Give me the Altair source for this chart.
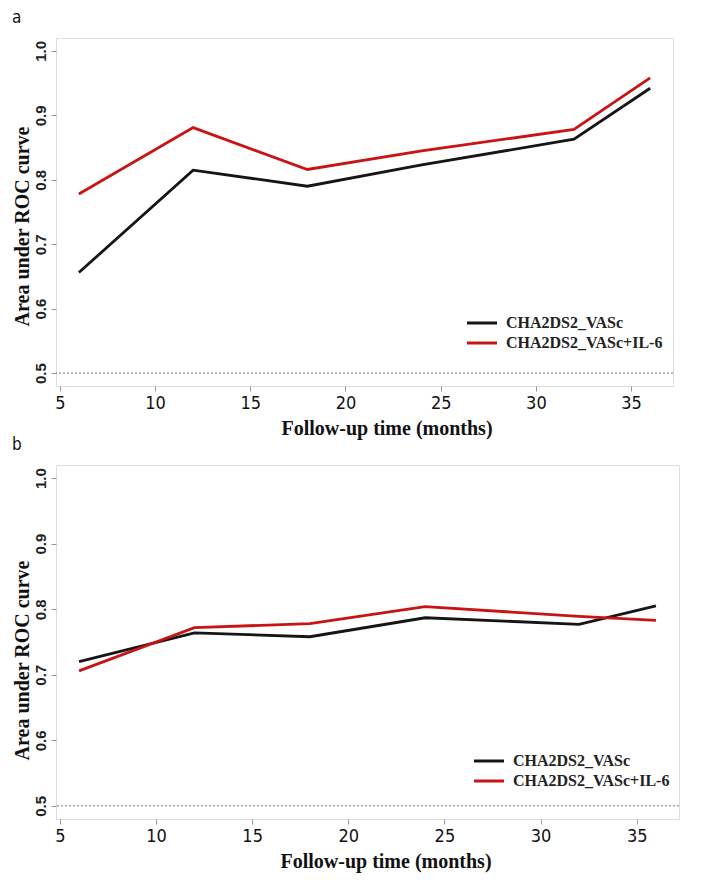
import altair as alt
import pandas as pd

months = [6, 12, 18, 24, 32, 36]
series = ["CHA2DS2_VASc", "CHA2DS2_VASc+IL-6"]
colors = ["#151515", "#c81414"]

auc_a_base = [0.656, 0.815, 0.790, 0.823, 0.863, 0.942]
auc_a_il6 = [0.778, 0.881, 0.816, 0.845, 0.878, 0.958]
auc_b_base = [0.720, 0.764, 0.758, 0.787, 0.777, 0.805]
auc_b_il6 = [0.706, 0.772, 0.778, 0.804, 0.789, 0.783]

x_ticks = [5, 10, 15, 20, 25, 30, 35]
y_ticks = [0.5, 0.6, 0.7, 0.8, 0.9, 1.0]
chance = [0.5]

SERIF = "Liberation Serif"
NARROW = "Liberation Sans Narrow, DejaVu Sans Condensed, Arial Narrow, sans-serif"
SANS = "Liberation Sans"

# wide horizontal stroke drawn beyond the nominal symbol box (keeps rows compact)
LEGEND_STROKE = "M-1.43,0H1.43"


def panel(tag, base, il6, w, h, lx, ly, tx_shift, ty_shift):
    df = pd.DataFrame({
        "month": months * 2,
        "auc": base + il6,
        "model": [series[0]] * len(months) + [series[1]] * len(months),
    })
    xs = alt.Scale(domain=[4.8, 37.2], nice=False, zero=False)
    ys = alt.Scale(domain=[0.48, 1.02], nice=False, zero=False)
    y_axis = alt.Axis(values=y_ticks, format=".1f", title="Area under ROC curve",
                      grid=False, domain=False, tickSize=5, tickColor="#999999",
                      labelAngle=270, labelAlign="center", labelBaseline="bottom",
                      labelFont=SANS, labelFontSize=15, labelFontWeight="bold",
                      labelColor="#222222", labelPadding=3,
                      titleFont=SERIF, titleFontSize=20, titleFontWeight="bold",
                      titleColor="#111111", titlePadding=1, titleY=h / 2 + ty_shift)
    ref = alt.Chart(pd.DataFrame({"auc": chance})).mark_rule(
        color="#555555", strokeWidth=0.8, strokeDash=[2, 2]
    ).encode(y=alt.Y("auc:Q", scale=ys, axis=y_axis, title="Area under ROC curve"))
    lines = alt.Chart(df).mark_line(strokeWidth=2.8).encode(
        x=alt.X("month:Q", scale=xs,
                axis=alt.Axis(values=x_ticks, title="Follow-up time (months)",
                              grid=False, domain=False, tickSize=5, tickColor="#999999",
                              labelFont=NARROW, labelFontSize=18, labelColor="#111111",
                              labelPadding=3, titleFont=SERIF, titleFontSize=20,
                              titleFontWeight="bold", titleColor="#111111", titlePadding=6,
                              titleX=w / 2 + tx_shift)),
        y=alt.Y("auc:Q", scale=ys, axis=y_axis, title="Area under ROC curve"),
        color=alt.Color("model:N", scale=alt.Scale(domain=series, range=colors),
                        legend=alt.Legend(title=None, orient="none", legendX=lx, legendY=ly,
                                          symbolType=LEGEND_STROKE, symbolSize=441,
                                          symbolStrokeWidth=3, rowPadding=0,
                                          symbolFillColor="transparent",
                                          labelFont=SERIF, labelFontSize=16,
                                          labelFontWeight="bold", labelColor="#222222",
                                          labelOffset=12)),
        order=alt.Order("month:Q"),
    )
    return alt.layer(ref, lines).properties(
        width=w, height=h,
        title=alt.Title(tag, anchor="start", frame="bounds", font=NARROW, fontSize=17,
                        fontWeight="normal", color="#111111", offset=11),
    )


pa = panel("a", auc_a_base, auc_a_il6, 617, 348, 414, 273, 22, 14)
pb = panel("b", auc_b_base, auc_b_il6, 623, 354, 421, 284, 18, 18)

chart = alt.vconcat(pa, pb, spacing=-4).resolve_scale(color="independent").resolve_legend(
    color="independent"
).configure_view(stroke="#a0a0a0", strokeWidth=1.2).configure(
    padding={"left": 3, "top": 0, "right": 5, "bottom": 5}, background="white"
)

chart.save("out.html", embed_options={"renderer": "svg", "actions": False})
